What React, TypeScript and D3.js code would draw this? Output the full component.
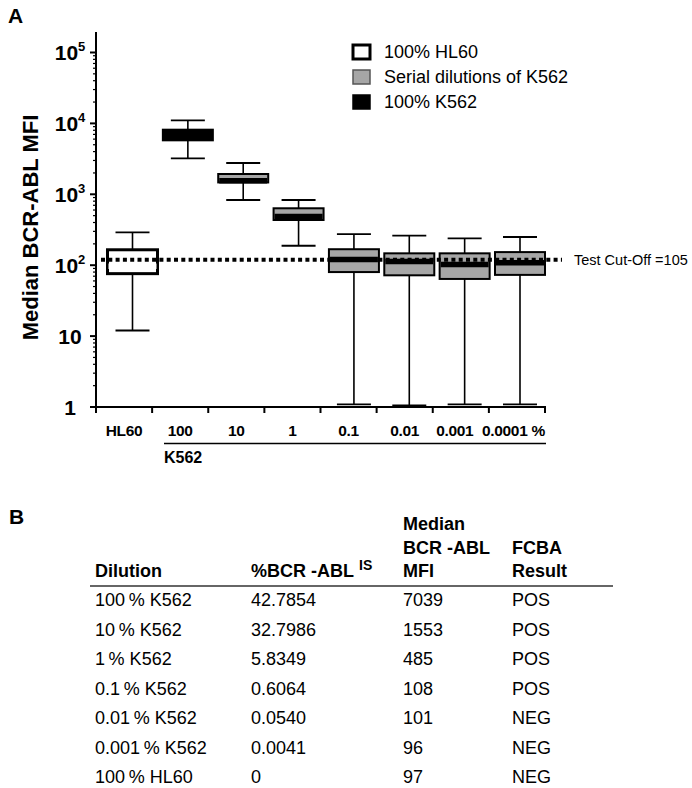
import React from "react";
import * as d3 from "d3";

// ---- Panel A data ----
const categories = ["HL60", "100", "10", "1", "0.1", "0.01", "0.001", "0.0001 %"];
const whiskerLow = [12, 3220, 831, 188, 1.09, 1.05, 1.09, 1.09];
const q1 = [76, 5770, 1470, 434, 80, 72, 64, 73];
const medians = [97, 7039, 1553, 485, 120, 113, 102, 108];
const q3 = [165, 8150, 1933, 635, 168, 147, 147, 153];
const whiskerHigh = [291, 11060, 2763, 831, 275, 261, 239, 250];
const groupKind = ["hl60", "k562", "serial", "serial", "serial", "serial", "serial", "serial"];
const cutoffDrawn = 119.6;
const cutoffLabel = "Test Cut-Off =105";
const legendLabels = ["100% HL60", "Serial dilutions of K562", "100% K562"];
const legendKinds = ["hl60", "serial", "k562"];
const yMajorTicks = [1, 10, 100, 1000, 10000, 100000];

// ---- Panel B data ----
const tableDilution = ["100\u2009% K562", "10\u2009% K562", "1\u2009% K562", "0.1\u2009% K562", "0.01\u2009% K562", "0.001\u2009% K562", "100\u2009% HL60"];
const tableBcrAbl = ["42.7854", "32.7986", "5.8349", "0.6064", "0.0540", "0.0041", "0"];
const tableMfi = ["7039", "1553", "485", "108", "101", "96", "97"];
const tableResult = ["POS", "POS", "POS", "POS", "NEG", "NEG", "NEG"];

const FONT = "'Liberation Sans', Arial, sans-serif";
const fillFor: Record<string, string> = { hl60: "#ffffff", serial: "#a6a6a6", k562: "#000000" };

export default function App() {
  const W = 692, H = 788;
  const x0 = 96, x1 = 545, yBottom = 407, yTop = 32;
  const y = d3.scaleLog().domain([1, Math.pow(10, 5.289)]).range([yBottom, yTop]);
  const xBand = d3.scaleBand<string>().domain(categories).range([x0, x1]).padding(0);
  const xBox = d3.scalePoint<string>().domain(categories).range([132.5, 520]);
  const boxW = 50, capW = 34;

  const minorTicks: { v: number; major: boolean }[] = [];
  const [, dmax] = y.domain();
  for (let k = 0; k <= 5; k++) {
    for (let m = 1; m <= 9; m++) {
      const v = m * Math.pow(10, k);
      if (v <= dmax * 1.0001) minorTicks.push({ v, major: m === 1 });
    }
  }
  const bandEdges = categories.map((c) => xBand(c)!).concat([x1]);

  const cy = y(cutoffDrawn);

  // table columns
  const colX = [95, 251, 403, 512];
  const rowY = tableDilution.map((_, i) => 606 + i * 29.5);

  return (
    <svg width={W} height={H} style={{ position: "absolute", left: 0, top: 0, background: "#fff" }} fontFamily={FONT}>
      <rect x={0} y={0} width={W} height={H} fill="#fff" />
      {/* Panel letter A */}
      <text x={8} y={23} fontSize={21} fontWeight="bold">A</text>

      {/* Y axis */}
      <line x1={x0} x2={x0} y1={yTop} y2={yBottom + 1} stroke="#000" strokeWidth={2} />
      {minorTicks.map((t, i) => (
        <line key={i} x1={x0 - (t.major ? 6 : 3)} x2={x0} y1={y(t.v)} y2={y(t.v)} stroke="#000" strokeWidth={t.major ? 2 : 1.2} />
      ))}
      {yMajorTicks.map((v) => {
        const e = Math.round(Math.log10(v));
        return (
          <text key={v} x={70} y={y(v) + 7.5} fontSize={21} fontWeight="bold" textAnchor="middle">
            {e === 0 ? "1" : "10"}
            {e >= 2 ? <tspan dy={-9} fontSize={13}>{e}</tspan> : null}
          </text>
        );
      })}
      <text transform={`translate(38,${(yTop + yBottom) / 2 + 8}) rotate(-90)`} fontSize={22} fontWeight="bold" textAnchor="middle">
        Median BCR-ABL MFI
      </text>

      {/* X axis */}
      <line x1={x0 - 1} x2={x1 + 1} y1={yBottom} y2={yBottom} stroke="#000" strokeWidth={2} />
      {bandEdges.map((ex, i) => (
        <line key={i} x1={ex} x2={ex} y1={yBottom} y2={yBottom + 6} stroke="#000" strokeWidth={2} />
      ))}
      {categories.map((c, i) => {
        const last = i === categories.length - 1;
        return (
          <text
            key={c}
            x={last ? x1 : xBand(c)! + xBand.bandwidth() / 2 - (i === 6 ? 6 : 0)}
            y={436}
            fontSize={15.5}
            fontWeight="bold"
            textAnchor={last ? "end" : "middle"}
            letterSpacing={-0.3}
          >
            {c}
          </text>
        );
      })}
      <line x1={164} x2={546} y1={443.5} y2={443.5} stroke="#000" strokeWidth={1.5} />
      <text x={164} y={463} fontSize={16} fontWeight="bold">K562</text>

      {/* Boxes */}
      {categories.map((c, i) => {
        const cx = xBox(c)!;
        const kind = groupKind[i];
        const sw = kind === "hl60" ? 3 : 2;
        return (
          <g key={c}>
            <line x1={cx} x2={cx} y1={y(whiskerHigh[i])} y2={y(q3[i])} stroke="#000" strokeWidth={1.6} />
            <line x1={cx} x2={cx} y1={y(q1[i])} y2={y(whiskerLow[i])} stroke="#000" strokeWidth={1.6} />
            <line x1={cx - capW / 2} x2={cx + capW / 2} y1={y(whiskerHigh[i])} y2={y(whiskerHigh[i])} stroke="#000" strokeWidth={1.8} />
            <line x1={cx - capW / 2} x2={cx + capW / 2} y1={y(whiskerLow[i])} y2={y(whiskerLow[i])} stroke="#000" strokeWidth={1.8} />
            <rect x={cx - boxW / 2} y={y(q3[i])} width={boxW} height={y(q1[i]) - y(q3[i])} fill={fillFor[kind]} stroke="#000" strokeWidth={sw} />
            <line x1={cx - boxW / 2 + 1} x2={cx + boxW / 2 - 1} y1={y(medians[i])} y2={y(medians[i])} stroke={kind === "hl60" ? "#fff" : "#000"} strokeWidth={5.5} />
          </g>
        );
      })}

      {/* Cut-off line */}
      <line x1={101} x2={562} y1={cy} y2={cy} stroke="#000" strokeWidth={4} strokeDasharray="4 3.3" />
      <text x={574} y={cy + 5} fontSize={14.5}>{cutoffLabel}</text>

      {/* Legend */}
      {legendLabels.map((lab, i) => {
        const ly = 45 + i * 25;
        const kind = legendKinds[i];
        return (
          <g key={lab}>
            <rect x={353} y={ly} width={17} height={14} fill={fillFor[kind]} stroke={kind === "serial" ? "#555" : "#000"} strokeWidth={kind === "hl60" ? 3 : 1.5} />
            <text x={384} y={ly + 13} fontSize={18}>{lab}</text>
          </g>
        );
      })}

      {/* Panel B */}
      <text x={9} y={524} fontSize={21} fontWeight="bold">B</text>
      <g fontSize={18} fontWeight="bold">
        <text x={colX[0]} y={577}>Dilution</text>
        <text x={colX[1]} y={577}>%BCR -ABL</text>
        <text x={359} y={570} fontSize={14}>IS</text>
        <text x={colX[2]} y={530}>Median</text>
        <text x={colX[2]} y={553.5}>BCR -ABL</text>
        <text x={colX[2]} y={577}>MFI</text>
        <text x={colX[3]} y={553.5}>FCBA</text>
        <text x={colX[3]} y={577}>Result</text>
      </g>
      <line x1={90} x2={613} y1={586} y2={586} stroke="#333" strokeWidth={1.6} />
      <g fontSize={18}>
        {tableDilution.map((d, i) => (
          <g key={d}>
            <text x={colX[0]} y={rowY[i]}>{d}</text>
            <text x={colX[1]} y={rowY[i]}>{tableBcrAbl[i]}</text>
            <text x={colX[2]} y={rowY[i]}>{tableMfi[i]}</text>
            <text x={colX[3]} y={rowY[i]}>{tableResult[i]}</text>
          </g>
        ))}
      </g>
    </svg>
  );
}
